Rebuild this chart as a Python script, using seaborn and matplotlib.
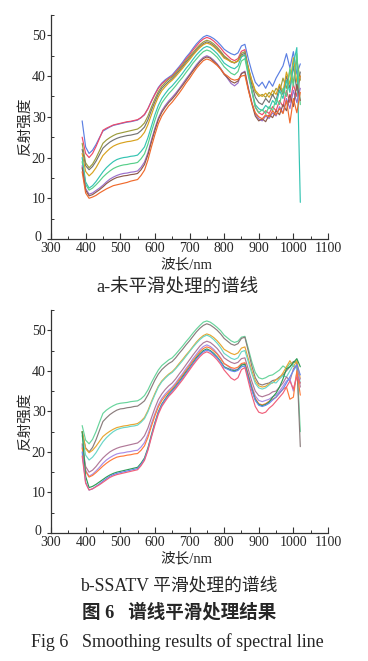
import matplotlib
matplotlib.use("Agg")
import matplotlib.pyplot as plt
from matplotlib.ticker import MultipleLocator
from matplotlib.transforms import ScaledTranslation
import seaborn as sns
import pandas as pd

# wavelengths (nm)
wl = [390, 400, 410, 420, 430, 440, 450, 460, 470, 480,
      490, 500, 510, 520, 530, 540, 550, 560, 570, 580,
      590, 600, 610, 620, 630, 640, 650, 660, 670, 680,
      690, 700, 710, 720, 730, 740, 750, 760, 770, 780,
      790, 800, 810, 820, 830, 840, 850, 860, 870, 880,
      890, 900, 910, 920, 930, 940, 950, 960, 970, 980,
      990, 1000, 1010, 1020]

# ---------- panel a: raw spectra ----------
a_blue = [29.0,22.6,21.0,21.8,23.2,24.9,26.5,27.0,27.5,27.9,
          28.1,28.3,28.5,28.7,28.8,29.0,29.2,29.8,30.5,32.0,
          33.9,35.6,37.2,38.3,39.1,39.7,40.3,41.3,42.3,43.4,
          44.6,45.6,46.8,47.9,48.8,49.6,50.0,49.7,49.2,48.5,
          47.6,46.6,46.0,45.5,45.2,45.7,47.4,47.8,44.2,41.1,
          38.5,37.5,38.5,37.0,38.8,37.5,39.5,41.0,42.5,45.5,
          42.0,46.0,40.5,43.0]
a_red = [25.0,21.0,20.0,21.0,22.7,24.7,26.7,27.2,27.6,28.0,
         28.2,28.4,28.6,28.8,28.9,29.1,29.3,29.8,30.6,32.0,
         33.8,35.5,37.0,38.1,38.8,39.5,40.0,41.0,42.0,43.0,
         44.2,45.2,46.4,47.4,48.4,49.1,49.5,49.2,48.6,47.8,
         46.9,45.8,45.0,44.2,43.8,44.3,46.1,46.5,41.1,36.4,
         32.5,31.0,30.5,31.5,30.8,32.5,31.5,34.0,32.5,36.5,
         33.5,38.0,35.0,40.0]
a_olive = [23.5,18.7,17.5,18.4,19.9,21.7,23.5,24.3,24.9,25.4,
           25.8,26.0,26.2,26.4,26.6,26.8,27.0,27.6,28.5,30.2,
           32.4,34.4,36.2,37.5,38.4,39.2,39.8,40.7,41.7,42.7,
           43.8,44.8,45.8,46.8,47.7,48.4,48.8,48.5,47.9,47.1,
           46.1,45.0,44.3,43.6,43.3,43.8,45.6,46.0,42.2,38.9,
           36.1,35.0,35.5,34.8,36.0,35.2,37.0,36.0,39.5,37.0,
           41.5,38.5,44.0,39.0]
a_gray = [22.0,18.0,17.0,17.8,19.1,20.7,22.3,23.1,23.8,24.3,
          24.7,25.0,25.2,25.4,25.5,25.7,25.9,26.6,27.5,29.3,
          31.6,33.7,35.6,37.0,37.9,38.7,39.4,40.3,41.3,42.3,
          43.4,44.4,45.4,46.4,47.3,48.0,48.4,48.1,47.5,46.7,
          45.8,44.7,44.1,43.5,43.2,43.7,45.2,45.6,41.8,37.9,
          34.8,33.5,33.0,34.5,33.5,35.5,34.0,37.5,35.5,40.0,
          37.0,42.5,36.5,41.0]
a_gold = [21.0,16.6,15.5,16.3,17.5,19.0,20.5,21.4,22.2,22.8,
          23.2,23.5,23.7,23.9,24.0,24.2,24.4,25.1,26.2,28.1,
          30.5,32.9,34.9,36.4,37.4,38.3,39.0,39.9,40.9,41.9,
          43.0,44.0,45.1,46.1,47.0,47.7,48.1,47.8,47.2,46.4,
          45.5,44.4,44.0,43.5,43.3,43.7,44.9,45.2,41.8,38.9,
          36.5,35.5,35.0,35.8,34.8,36.5,35.5,38.0,36.0,41.0,
          38.0,44.5,38.5,40.0]
a_teal = [20.0,14.0,12.5,13.1,14.1,15.3,16.5,17.5,18.3,19.0,
          19.5,19.8,20.0,20.1,20.3,20.4,20.6,21.5,22.6,24.9,
          27.7,30.5,32.8,34.5,35.7,36.8,37.6,38.6,39.6,40.7,
          41.9,42.9,44.1,45.2,46.1,46.9,47.3,47.0,46.3,45.5,
          44.4,43.2,42.6,42.1,41.8,42.5,44.7,45.2,40.5,36.4,
          33.0,32.0,31.5,32.8,32.0,34.0,33.0,36.5,34.5,39.0,
          36.0,43.0,47.0,9.0]
a_green = [19.0,13.4,12.0,12.5,13.3,14.2,15.2,16.0,16.7,17.3,
           17.7,18.0,18.2,18.3,18.5,18.6,18.8,19.7,20.9,23.3,
           26.3,29.1,31.6,33.4,34.6,35.7,36.6,37.6,38.7,39.7,
           40.9,42.0,43.2,44.2,45.2,46.0,46.4,46.1,45.4,44.6,
           43.5,42.3,41.5,40.7,40.3,41.1,43.7,44.3,40.0,36.4,
           32.3,31.0,31.8,30.8,32.5,31.5,34.5,33.0,37.0,35.0,
           42.0,37.5,45.5,33.0]
a_purple = [18.0,12.4,11.0,11.3,11.9,12.5,13.2,14.0,14.7,15.2,
            15.6,15.9,16.1,16.2,16.4,16.5,16.7,17.6,18.9,21.2,
            24.3,27.2,29.7,31.5,32.8,33.9,34.8,35.8,36.9,38.1,
            39.3,40.4,41.6,42.8,43.8,44.6,45.0,44.6,43.9,43.0,
            41.9,40.6,39.4,38.2,37.6,38.3,40.7,41.2,37.1,33.6,
            30.7,29.5,29.0,30.2,29.6,31.0,30.2,32.5,31.0,34.5,
            32.0,36.5,33.5,37.0]
a_brown = [17.5,12.0,10.6,10.9,11.5,12.1,12.8,13.6,14.2,14.7,
           15.1,15.3,15.5,15.6,15.8,15.9,16.1,17.0,18.3,20.7,
           23.8,26.7,29.3,31.1,32.4,33.5,34.4,35.4,36.6,37.7,
           38.9,40.1,41.3,42.4,43.5,44.3,44.7,44.4,43.6,42.8,
           41.7,40.4,39.6,38.7,38.3,38.8,40.6,41.0,36.8,33.2,
           30.2,29.0,29.5,28.8,30.5,29.8,31.5,30.5,33.0,31.5,
           35.5,32.5,38.0,34.0]
a_orange = [16.5,11.3,10.0,10.3,10.7,11.3,11.8,12.3,12.7,13.1,
            13.3,13.5,13.7,13.9,14.2,14.4,14.6,15.6,16.9,19.4,
            22.6,25.6,28.3,30.2,31.5,32.7,33.6,34.7,35.8,37.0,
            38.3,39.4,40.7,41.9,42.9,43.8,44.2,43.9,43.3,42.6,
            41.7,40.6,40.0,39.3,39.0,39.2,40.0,40.2,36.5,33.3,
            31.0,30.0,29.5,30.5,30.0,31.5,30.5,32.0,30.8,34.0,
            28.5,34.5,31.0,36.0]

# ---------- panel b: SSATV smoothed spectra ----------
b_mint = [26.5,22.9,22.0,23.1,25.0,27.3,29.5,30.3,30.9,31.4,
          31.8,32.0,32.1,32.2,32.4,32.5,32.6,33.1,33.9,35.3,
          37.1,38.7,40.2,41.3,42.0,42.7,43.2,44.1,45.1,46.1,
          47.2,48.2,49.3,50.3,51.2,52.0,52.3,52.0,51.4,50.7,
          49.9,48.8,48.1,47.4,47.0,47.3,48.3,48.5,45.4,42.2,
          39.6,38.3,38.0,38.3,38.8,39.0,39.6,40.2,41.2,40.6,
          41.8,42.0,42.5,25.0]
b_gray = [25.0,21.0,20.0,21.1,23.0,25.3,27.5,28.4,29.2,29.8,
          30.3,30.6,30.7,30.9,31.0,31.2,31.3,31.9,32.6,34.1,
          35.9,37.7,39.2,40.3,41.1,41.8,42.3,43.2,44.3,45.3,
          46.4,47.4,48.5,49.6,50.5,51.2,51.6,51.3,50.7,50.0,
          49.1,48.0,47.3,46.6,46.3,46.7,48.0,48.3,44.8,41.2,
          38.3,36.8,36.5,36.8,37.0,37.6,37.8,38.5,39.0,40.0,
          41.0,42.3,42.0,21.3]
b_gold = [25.0,20.8,19.8,20.4,21.4,22.6,23.8,24.5,25.1,25.6,
          26.0,26.2,26.4,26.5,26.7,26.8,27.0,27.6,28.5,30.2,
          32.4,34.4,36.2,37.5,38.4,39.2,39.8,40.7,41.8,42.8,
          43.9,44.9,46.0,47.1,48.0,48.7,49.1,48.8,48.2,47.4,
          46.4,45.3,44.8,44.3,44.0,44.4,45.6,45.9,42.9,40.0,
          37.5,36.3,36.0,36.2,36.8,37.0,37.8,38.2,39.5,41.0,
          42.5,41.0,42.5,38.0]
b_cyan = [24.0,19.2,18.0,18.7,19.8,21.2,22.5,23.5,24.3,25.0,
          25.5,25.8,26.0,26.1,26.3,26.4,26.6,27.3,28.2,29.9,
          32.1,34.1,36.0,37.3,38.2,39.0,39.6,40.5,41.5,42.5,
          43.6,44.7,45.8,46.8,47.7,48.4,48.8,48.4,47.7,46.8,
          45.7,44.3,43.7,43.1,42.8,43.2,44.7,45.0,42.2,39.3,
          36.9,35.8,35.5,35.8,36.5,37.2,37.0,38.0,38.8,38.5,
          40.0,41.5,40.5,37.0]
b_mauve = [22.0,16.4,15.0,15.5,16.4,17.5,18.5,19.3,20.0,20.5,
           20.9,21.2,21.4,21.6,21.8,22.0,22.2,22.9,24.0,25.9,
           28.4,30.8,32.9,34.3,35.4,36.3,37.0,38.0,39.2,40.3,
           41.5,42.7,43.9,45.0,46.1,46.9,47.3,47.0,46.3,45.5,
           44.4,43.2,42.6,42.1,41.8,42.1,43.0,43.2,40.3,37.4,
           35.0,33.9,33.6,33.9,34.2,34.8,35.0,36.0,37.0,38.5,
           37.5,40.5,41.5,36.0]
b_lilac = [21.5,15.5,14.0,14.5,15.3,16.2,17.2,18.0,18.6,19.1,
           19.5,19.7,19.8,20.0,20.1,20.3,20.4,21.2,22.3,24.3,
           27.0,29.4,31.6,33.2,34.3,35.2,36.0,37.0,38.2,39.3,
           40.6,41.7,43.0,44.1,45.2,46.0,46.4,46.0,45.3,44.3,
           43.2,41.8,41.2,40.5,40.2,40.5,41.6,41.8,39.0,36.2,
           33.8,32.7,32.4,32.7,33.0,33.6,34.0,35.0,36.2,37.5,
           38.0,35.0,39.5,38.0]
b_orange = [21.0,15.2,13.8,14.2,14.9,15.7,16.5,17.2,17.8,18.3,
            18.7,18.9,19.0,19.2,19.3,19.5,19.6,20.4,21.5,23.6,
            26.3,28.9,31.1,32.7,33.8,34.8,35.6,36.6,37.8,38.9,
            40.1,41.3,42.5,43.6,44.7,45.5,45.9,45.6,44.9,44.1,
            43.0,41.8,41.3,40.8,40.6,40.9,41.8,42.0,38.9,35.8,
            33.2,31.9,31.6,31.9,32.5,33.0,33.5,34.5,35.5,36.0,
            33.0,33.5,40.0,34.0]
b_dgreen = [25.0,14.0,11.2,11.5,12.0,12.6,13.2,13.8,14.3,14.7,
            15.0,15.2,15.4,15.6,15.8,16.0,16.2,17.2,18.5,21.0,
            24.2,27.2,29.9,31.8,33.1,34.3,35.2,36.2,37.3,38.5,
            39.7,40.8,42.0,43.2,44.2,45.0,45.4,45.0,44.3,43.4,
            42.3,41.0,40.6,40.2,40.0,40.3,41.4,41.6,38.5,35.5,
            32.9,31.7,31.4,31.7,32.3,33.5,34.5,36.0,38.0,40.5,
            41.0,42.0,43.0,41.0]
b_blue = [20.0,12.5,10.6,10.9,11.5,12.1,12.8,13.4,14.0,14.4,
          14.7,14.9,15.1,15.3,15.5,15.7,15.9,16.9,18.2,20.7,
          23.9,27.0,29.7,31.6,32.9,34.0,35.0,36.0,37.1,38.2,
          39.4,40.6,41.8,42.9,43.9,44.7,45.1,44.8,44.0,43.2,
          42.1,40.8,40.4,40.0,39.8,40.1,41.0,41.2,38.2,35.2,
          32.7,31.5,31.2,31.5,32.0,32.8,33.5,34.5,35.5,37.0,
          38.5,40.0,41.5,39.0]
b_pink = [19.0,12.3,10.6,10.9,11.4,11.9,12.5,13.1,13.7,14.1,
          14.4,14.6,14.8,15.0,15.2,15.4,15.6,16.6,17.9,20.4,
          23.6,26.6,29.3,31.2,32.5,33.7,34.6,35.6,36.7,37.8,
          39.0,40.2,41.4,42.5,43.5,44.3,44.7,44.3,43.6,42.7,
          41.6,40.2,39.2,38.2,37.7,38.3,40.3,40.8,37.4,34.0,
          31.2,29.8,29.5,29.8,30.8,31.5,32.5,33.5,34.5,36.0,
          37.5,35.5,38.5,37.0]

series_a = {"blue": a_blue, "red": a_red, "olive": a_olive, "gray": a_gray,
            "gold": a_gold, "teal": a_teal, "green": a_green,
            "purple": a_purple, "brown": a_brown, "orange": a_orange}
colors_a = {"blue": "#5b7fe2", "red": "#ee4a68", "olive": "#9c9c3c",
            "gray": "#747474", "gold": "#d8a21e", "teal": "#34c4b2",
            "green": "#58cf8a", "purple": "#9a6fcb", "brown": "#8e5a4c",
            "orange": "#f06a2c"}

series_b = {"mint": b_mint, "gray": b_gray, "gold": b_gold, "cyan": b_cyan,
            "mauve": b_mauve, "lilac": b_lilac, "orange": b_orange,
            "dgreen": b_dgreen, "blue": b_blue, "pink": b_pink}
colors_b = {"mint": "#68d49c", "gray": "#8a7c7c", "gold": "#e8a632",
            "cyan": "#6ad6c8", "mauve": "#b07898", "lilac": "#a88ce6",
            "orange": "#ff7a3a", "dgreen": "#2e9c55", "blue": "#6688ee",
            "pink": "#f0607a"}

xticks = [300, 400, 500, 600, 700, 800, 900, 1000, 1100]
yticks = [0, 10, 20, 30, 40, 50]

sns.set_style("ticks")
plt.rcParams["font.family"] = ["Liberation Serif", "Noto Sans CJK SC"]
plt.rcParams["axes.unicode_minus"] = False

CJK = ["Liberation Serif", "Noto Sans CJK SC"]

fig = plt.figure(figsize=(3.68, 6.61), dpi=100)
W, H = 368.0, 661.0
ax1 = fig.add_axes([51 / W, 1 - 239 / H, 277 / W, 224 / H])
ax2 = fig.add_axes([51 / W, 1 - 533 / H, 277 / W, 223 / H])


def to_long(series):
    rows = []
    for name, vals in series.items():
        for x, v in zip(wl, vals):
            rows.append((x, v, name))
    return pd.DataFrame(rows, columns=["wl", "val", "line"])


for ax, series, cols in [(ax1, series_a, colors_a), (ax2, series_b, colors_b)]:
    df = to_long(series)
    sns.lineplot(data=df, x="wl", y="val", hue="line", palette=cols,
                 estimator=None, sort=False, legend=False, linewidth=0.85,
                 ax=ax)
    ax.set_xlim(300, 1100)
    ax.set_ylim(0, 55)
    ax.set_xticks(xticks)
    ax.set_yticks(yticks)
    ax.set_xticklabels([str(t) for t in xticks])
    ax.set_yticklabels([str(t) for t in yticks])
    ax.xaxis.set_minor_locator(MultipleLocator(50))
    ax.yaxis.set_minor_locator(MultipleLocator(5))
    ax.tick_params(axis="x", which="major", direction="in", length=4,
                   width=0.8, color="#333333", labelsize=10, pad=2.5)
    ax.tick_params(axis="x", which="minor", direction="in", length=2.2,
                   width=0.7, color="#333333")
    ax.tick_params(axis="y", which="major", direction="out", length=3,
                   width=0.8, color="#333333", labelsize=10, pad=0.8)
    ax.tick_params(axis="y", which="minor", direction="in", length=2.5,
                   width=0.7, color="#333333")
    for s in ["top", "right"]:
        ax.spines[s].set_visible(False)
    for s in ["left", "bottom"]:
        ax.spines[s].set_color("#333333")
        ax.spines[s].set_linewidth(0.9)
    ax.set_xlabel("波长/nm", fontsize=10.5, family=CJK)
    ax.set_ylabel("反射强度", fontsize=10.5, family=CJK)
    ax.xaxis.set_label_coords(0.49, -19 / 224)
    ax.yaxis.set_label_coords(-19 / 277, 0.5)
    ax.set_facecolor("white")
    # nudge the y "0" label up-left so it only touches the "300" label
    zero_lbl = ax.get_yticklabels()[0]
    zero_lbl.set_transform(zero_lbl.get_transform() +
                           ScaledTranslation(-4 / 100, 3 / 100,
                                             fig.dpi_scale_trans))

fig.text(177 / W, 1 - 288 / H, "a-未平滑处理的谱线", ha="center", va="center",
         fontsize=13.3, family=CJK)
fig.text(179 / W, 1 - 586 / H, "b-SSATV 平滑处理的谱线", ha="center",
         va="center", fontsize=12.8, family=CJK)
fig.text(179 / W, 1 - 612 / H, "图 6   谱线平滑处理结果", ha="center",
         va="center", fontsize=13.3, fontweight="bold", family=CJK)
fig.text(177 / W, 1 - 642 / H, "Fig 6   Smoothing results of spectral line",
         ha="center", va="center", fontsize=13, family=CJK)

fig.savefig("out.png", dpi=100, facecolor="white")
